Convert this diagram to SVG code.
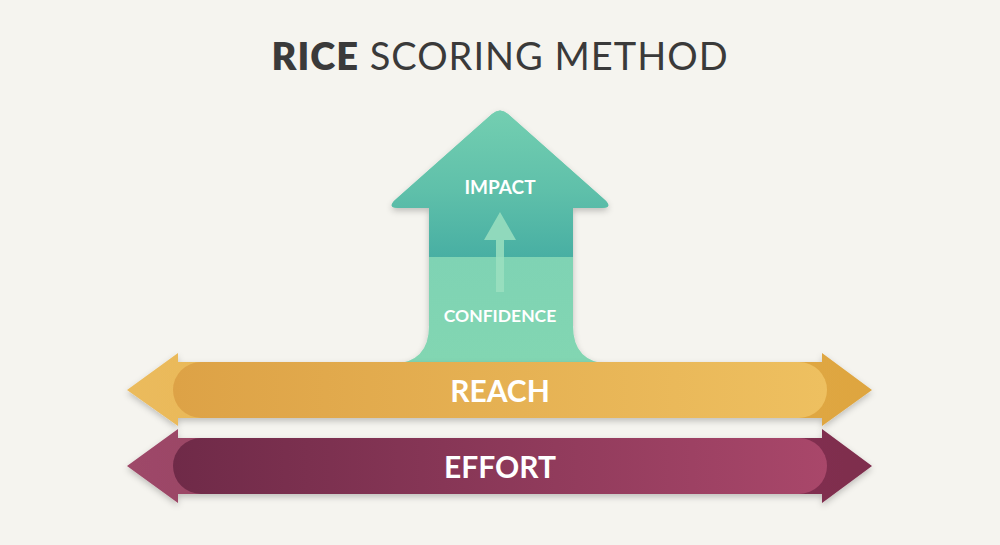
<svg xmlns="http://www.w3.org/2000/svg" width="1000" height="545" viewBox="0 0 1000 545">
  <defs>
    <style>
      .title { font-family: Lato, "Liberation Sans", sans-serif; font-size: 38px; fill: #3a3a3a; letter-spacing: 1px; }
      .lbl { font-family: Lato, "Liberation Sans", sans-serif; fill: #ffffff; font-weight: 700; text-anchor: middle; }
    </style>
    <filter id="sh" x="-10%" y="-20%" width="120%" height="160%">
      <feDropShadow dx="0" dy="3" stdDeviation="3" flood-color="#000" flood-opacity="0.22"/>
    </filter>
    <linearGradient id="houseTop" x1="0" y1="108" x2="0" y2="257" gradientUnits="userSpaceOnUse">
      <stop offset="0" stop-color="#74CFB1"/>
      <stop offset="0.55" stop-color="#5FC0AA"/>
      <stop offset="1" stop-color="#48AFA3"/>
    </linearGradient>
    <linearGradient id="houseBot" x1="0" y1="257" x2="0" y2="362" gradientUnits="userSpaceOnUse">
      <stop offset="0" stop-color="#7FD3B4"/>
      <stop offset="1" stop-color="#82D6B2"/>
    </linearGradient>
    <linearGradient id="reachG" x1="127" y1="0" x2="872" y2="0" gradientUnits="userSpaceOnUse">
      <stop offset="0" stop-color="#EBBB5C"/>
      <stop offset="1" stop-color="#DEA540"/>
    </linearGradient>
    <linearGradient id="reachIn" x1="173" y1="0" x2="827" y2="0" gradientUnits="userSpaceOnUse">
      <stop offset="0" stop-color="#DDA246"/>
      <stop offset="1" stop-color="#EEC060"/>
    </linearGradient>
    <linearGradient id="effG" x1="127" y1="0" x2="872" y2="0" gradientUnits="userSpaceOnUse">
      <stop offset="0" stop-color="#9E4868"/>
      <stop offset="1" stop-color="#7E2D4D"/>
    </linearGradient>
    <linearGradient id="effIn" x1="173" y1="0" x2="827" y2="0" gradientUnits="userSpaceOnUse">
      <stop offset="0" stop-color="#6F2A48"/>
      <stop offset="1" stop-color="#A9476A"/>
    </linearGradient>
    <clipPath id="topClip"><rect x="0" y="0" width="1000" height="257"/></clipPath>
  </defs>

  <rect width="1000" height="545" fill="#F5F4EF"/>

  <g id="title">
    <text class="title" x="500" y="70" text-anchor="middle"><tspan font-weight="800">RICE</tspan> SCORING METHOD</text>
  </g>

  <g id="impact-confidence">
    <path id="house" filter="url(#sh)" fill="url(#houseBot)" d="M429 208 L398 208 Q387 208 395 200 L492 114 Q500 107 508 114 L605 200 Q613 208 602 208 L573 208 L573 326 Q573 362 609 364 L393 364 Q429 362 429 326 Z"/>
    <path clip-path="url(#topClip)" fill="url(#houseTop)" d="M429 208 L398 208 Q387 208 395 200 L492 114 Q500 107 508 114 L605 200 Q613 208 602 208 L573 208 L573 326 Q573 362 609 364 L393 364 Q429 362 429 326 Z"/>
    <path fill="#9BDFC0" opacity="0.85" d="M496 292 L496 240 L484 240 L500 212 L516 240 L504 240 L504 292 Z"/>
    <text class="lbl" x="500" y="194" font-size="19">IMPACT</text>
    <text class="lbl" x="500" y="322" font-size="17.5">CONFIDENCE</text>
  </g>

  <g id="reach">
    <path filter="url(#sh)" fill="url(#reachG)" d="M127 390 L178 353 L178 362 L822 362 L822 353 L872 390 L822 426 L822 418 L178 418 L178 426 Z"/>
    <rect x="173" y="362" width="654" height="56" rx="28" fill="url(#reachIn)"/>
    <text class="lbl" x="500" y="402" font-size="30">REACH</text>
  </g>

  <g id="effort">
    <path filter="url(#sh)" fill="url(#effG)" d="M127 466 L178 429 L178 438 L822 438 L822 429 L872 466 L822 503 L822 494 L178 494 L178 503 Z"/>
    <rect x="173" y="438" width="654" height="56" rx="28" fill="url(#effIn)"/>
    <text class="lbl" x="500" y="478" font-size="30">EFFORT</text>
  </g>
</svg>
